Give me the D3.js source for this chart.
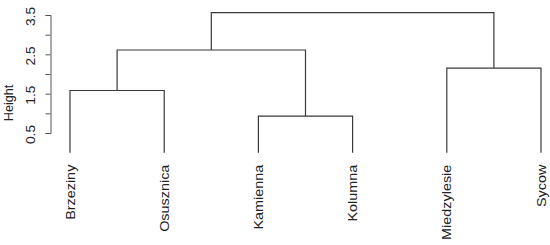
<!DOCTYPE html>
<html>
<head>
<meta charset="utf-8">
<script src="https://cdn.jsdelivr.net/npm/d3@7"></script>
<style>
  body { margin: 0; background: #fff; }
  text { font-family: "Liberation Sans", Arial, sans-serif; fill: #222; }
</style>
</head>
<body>
<div id="chart"></div>
<script>
// leaves in plot order
var leaves = ["Brzeziny", "Osusznica", "Kamienna", "Kolumna", "Miedzylesie", "Sycow"];
// merge steps, like R's hclust merge matrix (negative = leaf index, positive = earlier step)
var merge_left  = [-1, -3, 1, -5, 3];
var merge_right = [-2, -4, 2, -6, 4];
var merge_height = [1.58, 0.93, 2.61, 2.15, 3.56];
var tick_values = [0.5, 1.0, 1.5, 2.0, 2.5, 3.0, 3.5];
var tick_labels = ["0.5", "", "1.5", "", "2.5", "", "3.5"];

var width = 550, height = 245;

var svg = d3.select("#chart").append("svg")
    .attr("width", width)
    .attr("height", height);

var x = d3.scalePoint()
    .domain(leaves)
    .range([70, 541]);

var y = d3.scaleLinear()
    .domain([0.5, 3.5])
    .range([133, 15]);

// axis
var axis = d3.axisLeft(y)
    .tickValues(tick_values)
    .tickSize(5)
    .tickFormat(function(d, i) { return tick_labels[i]; });

var ax = svg.append("g")
    .attr("transform", "translate(50.5,0)")
    .call(axis);
ax.select(".domain").attr("stroke", "#555");
ax.selectAll(".tick line").attr("stroke", "#555");
ax.selectAll(".tick text")
    .attr("x", 0).attr("y", 0)
    .attr("dy", null)
    .attr("transform", "translate(-15.5,1) rotate(-90) scale(1.15,1)")
    .style("text-anchor", "middle")
    .style("font-size", "12px")
    .style("font-family", "'Liberation Sans', Arial, sans-serif")
    .attr("fill", "#333");

svg.append("text")
    .attr("transform", "translate(13,103) rotate(-90) scale(1.05,1)")
    .attr("text-anchor", "middle")
    .style("font-size", "12px")
    .attr("fill", "#333")
    .text("Height");

// positions of every node
var node_x = [], node_h = [];
function pos(idx) {
    if (idx < 0) return { x: x(leaves[-idx - 1]), h: 0 };
    return { x: node_x[idx - 1], h: node_h[idx - 1] };
}

var g = svg.append("g")
    .attr("fill", "none")
    .attr("stroke", "#3a3a3a")
    .attr("stroke-width", 1.2);

merge_height.forEach(function(h, i) {
    var a = pos(merge_left[i]), b = pos(merge_right[i]);
    node_x.push((a.x + b.x) / 2);
    node_h.push(h);
    g.append("path")
        .attr("d", "M" + a.x + "," + y(a.h) + "V" + y(h) + "H" + b.x + "V" + y(b.h));
});

// leaf labels
svg.selectAll(".leaf")
    .data(leaves)
  .enter().append("text")
    .attr("class", "leaf")
    .attr("transform", function(d) { return "translate(" + (x(d) + 4.5) + "," + (y(0) + 12) + ") rotate(-90) scale(1.2,1)"; })
    .attr("text-anchor", "end")
    .style("font-size", "12px")
    .attr("fill", "#333")
    .text(function(d) { return d; });
</script>
</body>
</html>
